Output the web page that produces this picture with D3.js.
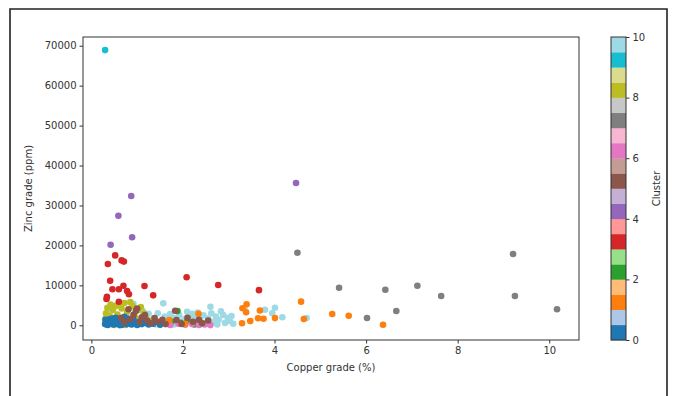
<!DOCTYPE html>
<html>
<head>
<meta charset="utf-8">
<script src="https://cdn.jsdelivr.net/npm/d3@7"></script>
<style>
  body { margin: 0; background: #fff; }
  svg { display: block; font-family: "DejaVu Sans", sans-serif; }
</style>
</head>
<body>
<svg id="plot"></svg>
<script>
// [copper %, zinc ppm] per cluster
const cluster0 = [[0.30,300],[0.33,900],[0.36,100],[0.40,1500],[0.42,600],[0.45,1700],[0.48,200],[0.50,1200],[0.53,1900],[0.55,400],[0.58,1400],[0.60,900],[0.63,1600],[0.66,100],[0.68,1300],[0.70,700],[0.74,1300],[0.77,300],[0.80,1700],[0.84,800],[0.88,200],[0.92,1400],[0.96,500],[1.00,100],[1.05,900],[1.10,300],[1.18,600],[1.25,200],[1.35,400],[1.50,150],[0.38,1100],[0.62,50],[0.72,2100],[0.31,1400],[0.52,700],[0.86,1100],[1.15,1200]];
const cluster1 = [[1.70,1330],[2.05,400],[2.34,2900],[3.29,500],[3.30,4260],[3.39,5260],[3.38,3250],[3.47,1050],[3.64,1750],[3.68,3700],[3.76,1650],[4.01,1800],[4.58,5920],[4.64,1580],[5.26,2830],[5.62,2400],[6.37,150]];
const cluster2 = [[1.88,3580],[1.95,600],[2.10,1200],[2.25,200],[1.75,900],[2.45,400]];
const cluster3 = [[0.36,15350],[0.52,17500],[0.66,16250],[0.71,15950],[0.41,11170],[0.46,9010],[0.60,9010],[0.70,9920],[0.78,8590],[0.82,7760],[1.16,9840],[1.35,7500],[0.34,7160],[0.33,6580],[0.60,5910],[2.08,12020],[2.77,10090],[3.66,8800]];
const cluster4 = [[0.42,20180],[0.59,27440],[0.87,32370],[0.89,22030],[4.47,35630]];
const cluster5 = [[0.81,4000],[0.85,1500],[0.92,2600],[0.97,3600],[1.05,800],[1.10,2000],[1.17,2580],[1.22,1200],[1.30,500],[1.38,1800],[1.45,900],[1.55,1400],[1.62,300],[1.83,3650],[1.86,1330],[1.97,330],[2.10,1900],[2.22,900],[2.35,1400],[2.42,500],[0.72,800],[0.65,1800],[1.00,4200],[2.55,1200]];
const cluster6 = [[1.72,100],[1.90,400],[2.05,150],[2.20,300],[2.35,100],[2.48,200],[2.60,50]];
const cluster7 = [[4.50,18180],[9.21,17850],[5.41,9420],[6.42,8910],[7.12,9920],[7.64,7340],[9.25,7340],[10.17,4000],[6.66,3580],[6.02,1830]];
const cluster8 = [[0.30,1500],[0.32,3000],[0.35,4400],[0.38,600],[0.42,5200],[0.47,3800],[0.52,4800],[0.57,2700],[0.62,5300],[0.66,4200],[0.72,5600],[0.78,3300],[0.85,5800],[0.90,4900],[0.95,2100],[1.02,3800],[1.08,4600],[1.15,3000],[1.20,1600],[1.28,1000],[0.33,200],[0.50,100],[0.75,100],[0.40,2300]];
const cluster9 = [[0.30,68900]];
const cluster10 = [[0.32,2500],[0.36,3600],[0.55,5000],[0.92,5400],[1.00,1500],[1.12,3600],[1.25,2900],[1.35,1500],[1.45,3000],[1.50,600],[1.57,5500],[1.60,2200],[1.65,1000],[1.72,2800],[1.80,1900],[1.92,2500],[2.00,1000],[2.09,3400],[2.15,2200],[2.20,600],[2.28,1800],[2.32,3200],[2.38,1100],[2.45,2500],[2.50,400],[2.55,1700],[2.60,4660],[2.62,3000],[2.68,900],[2.72,2200],[2.78,1400],[2.83,3500],[2.88,2580],[2.92,600],[2.98,1800],[3.02,1100],[3.06,2330],[3.10,400],[2.42,300],[2.75,200],[3.34,4260],[3.79,3900],[4.01,4410],[3.95,3000],[4.17,2000],[4.70,1830],[1.80,200],[2.20,2900],[2.05,1600],[1.40,200],[0.85,300],[0.45,1200]];

// drawing order roughly as it appears (later = on top)
const drawOrder = [
  [10, cluster10], [8, cluster8], [0, cluster0], [2, cluster2], [6, cluster6],
  [1, cluster1], [5, cluster5], [3, cluster3], [4, cluster4], [7, cluster7], [9, cluster9]
];

const xTicks = [0, 2, 4, 6, 8, 10];
const yTicks = [0, 10000, 20000, 30000, 40000, 50000, 60000, 70000];
const cbarTicks = [0, 2, 4, 6, 8, 10];

// matplotlib tab20
const tab20 = ["#1f77b4","#aec7e8","#ff7f0e","#ffbb78","#2ca02c","#98df8a","#d62728","#ff9896",
  "#9467bd","#c5b0d5","#8c564b","#c49c94","#e377c2","#f7b6d2","#7f7f7f","#c7c7c7",
  "#bcbd22","#dbdb8d","#17becf","#9edae5"];

const W = 676, H = 396;
const plot = { left: 83, right: 579, top: 37, bottom: 340 };
const cbar = { left: 611, right: 626 };

const svg = d3.select("#plot").attr("width", W).attr("height", H);

// outer frame
svg.append("path")
  .attr("d", `M10,${H + 5} V9 H667 V${H + 5}`)
  .attr("fill", "none").attr("stroke", "#222").attr("stroke-width", 1.6);

const xScale = d3.scaleLinear().domain([-0.183, 10.65]).range([plot.left, plot.right]);
const yScale = d3.scaleLinear().domain([-3680, 72180]).range([plot.bottom, plot.top]);
const cScale = d3.scaleLinear().domain([0, 10]).range([plot.bottom, plot.top]);
const colorOf = (c) => tab20[Math.min(19, Math.floor(c * 2))];

// points
const points = drawOrder.flatMap(([c, arr]) => arr.map(([cu, zn]) => ({ c, cu, zn })));
svg.append("g")
  .selectAll("circle")
  .data(points)
  .join("circle")
  .attr("cx", (d) => xScale(d.cu))
  .attr("cy", (d) => yScale(d.zn))
  .attr("r", 3.3)
  .attr("fill", (d) => colorOf(d.c));

// axes
const xAxis = d3.axisBottom(xScale).tickValues(xTicks).tickSize(3.5).tickPadding(3).tickFormat(d3.format("d"));
const yAxis = d3.axisLeft(yScale).tickValues(yTicks).tickSize(3.5).tickPadding(3).tickFormat(d3.format("d"));

const gx = svg.append("g").attr("transform", `translate(0,${plot.bottom})`).call(xAxis);
const gy = svg.append("g").attr("transform", `translate(${plot.left},0)`).call(yAxis);
[gx, gy].forEach((g) => {
  g.select(".domain").remove();
  g.selectAll("line").attr("stroke", "#333");
  g.selectAll("text").attr("fill", "#333").style("font-size", "10px").style("font-family", "DejaVu Sans");
});

svg.append("rect")
  .attr("x", plot.left).attr("y", plot.top)
  .attr("width", plot.right - plot.left).attr("height", plot.bottom - plot.top)
  .attr("fill", "none").attr("stroke", "#333").attr("stroke-width", 1);

svg.append("text")
  .attr("x", (plot.left + plot.right) / 2).attr("y", 371)
  .attr("text-anchor", "middle").attr("fill", "#333").style("font-size", "10px")
  .text("Copper grade (%)");

svg.append("text")
  .attr("transform", `translate(32,${(plot.top + plot.bottom) / 2}) rotate(-90)`)
  .attr("text-anchor", "middle").attr("fill", "#333").style("font-size", "10px")
  .text("Zinc grade (ppm)");

// colorbar
svg.append("g")
  .selectAll("rect")
  .data(tab20)
  .join("rect")
  .attr("x", cbar.left)
  .attr("y", (d, i) => cScale((i + 1) / 2))
  .attr("width", cbar.right - cbar.left)
  .attr("height", (d, i) => cScale(i / 2) - cScale((i + 1) / 2) + 0.3)
  .attr("fill", (d) => d);

svg.append("rect")
  .attr("x", cbar.left).attr("y", plot.top)
  .attr("width", cbar.right - cbar.left).attr("height", plot.bottom - plot.top)
  .attr("fill", "none").attr("stroke", "#333").attr("stroke-width", 1);

const cAxis = d3.axisRight(cScale).tickValues(cbarTicks).tickSize(3.5).tickPadding(3).tickFormat(d3.format("d"));
const gc = svg.append("g").attr("transform", `translate(${cbar.right},0)`).call(cAxis);
gc.select(".domain").remove();
gc.selectAll("line").attr("stroke", "#333");
gc.selectAll("text").attr("fill", "#333").style("font-size", "10px").style("font-family", "DejaVu Sans");

svg.append("text")
  .attr("transform", `translate(660,${(plot.top + plot.bottom) / 2}) rotate(-90)`)
  .attr("text-anchor", "middle").attr("fill", "#333").style("font-size", "10px")
  .text("Cluster");
</script>
</body>
</html>
